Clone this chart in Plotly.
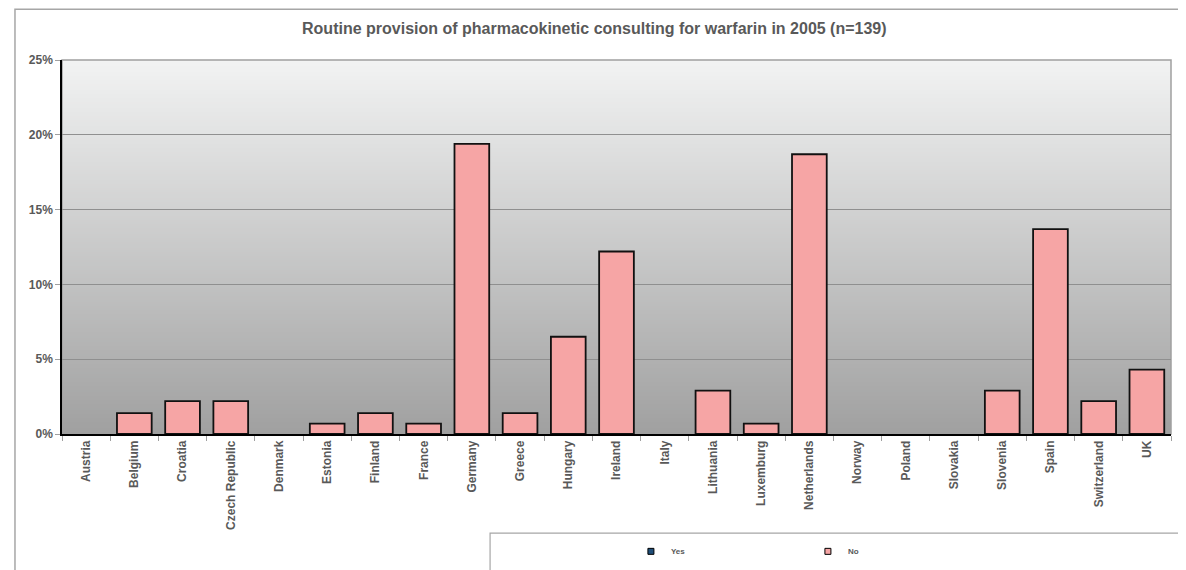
import plotly.graph_objects as go

countries = ["Austria", "Belgium", "Croatia", "Czech Republic", "Denmark", "Estonia",
             "Finland", "France", "Germany", "Greece", "Hungary", "Ireland", "Italy",
             "Lithuania", "Luxemburg", "Netherlands", "Norway", "Poland", "Slovakia",
             "Slovenia", "Spain", "Switzerland", "UK"]
yes_values = [None] * len(countries)
no_values = [0.0, 1.4, 2.2, 2.2, 0.0, 0.7, 1.4, 0.7, 19.4, 1.4, 6.5, 12.2, 0.0,
             2.9, 0.7, 18.7, 0.0, 0.0, 0.0, 2.9, 13.7, 2.2, 4.3]
y_ticks = [0, 5, 10, 15, 20, 25]

FONT = "Liberation Sans, Arial, sans-serif"
GRAY_TXT = "#595959"
YES_COLOR = "#1f4e79"
NO_COLOR = "#f6a5a5"

fig = go.Figure()
fig.add_trace(go.Bar(x=countries, y=yes_values, name="Yes", showlegend=False,
                     marker=dict(color=YES_COLOR, line=dict(color="black", width=1.5))))
fig.add_trace(go.Bar(x=countries, y=[v / 100 if v else None for v in no_values], name="No",
                     showlegend=False,
                     marker=dict(color=NO_COLOR, line=dict(color="#111111", width=1.8))))
# legend entries (small square keys like the original)
for nm, col in [("Yes", YES_COLOR), ("No", NO_COLOR)]:
    fig.add_trace(go.Scatter(x=[None], y=[None], mode="markers", name="<b>%s</b>" % nm,
                             marker=dict(symbol="square", size=6, color=col,
                                         line=dict(color="black", width=1))))

shapes = []
# gradient background strips
N = 187
top = (242, 243, 243)
bot = (160, 160, 160)
for i in range(N):
    f = (i + 0.5) / N
    c = tuple(round(top[k] + (bot[k] - top[k]) * f) for k in range(3))
    shapes.append(dict(type="rect", xref="paper", yref="paper", x0=0, x1=1,
                       y0=max(0, 1 - (i + 1) / N - 0.002), y1=1 - i / N,
                       fillcolor="rgb(%d,%d,%d)" % c, line=dict(width=0), layer="below"))
# plot area border (gray)
shapes.append(dict(type="rect", xref="paper", yref="paper", x0=0, x1=1, y0=0, y1=1,
                   line=dict(color="#a0a0a0", width=1.5), layer="below"))
# outer chart border
shapes.append(dict(type="rect", xref="paper", yref="paper", x0=-0.0424, x1=1.05,
                   y0=-0.5, y1=1.136, line=dict(color="#a6a6a6", width=1.5), layer="below"))
# legend box
shapes.append(dict(type="rect", xref="paper", yref="paper", x0=0.386, x1=1.05,
                   y0=-0.5, y1=-0.265, line=dict(color="#a6a6a6", width=1.2),
                   fillcolor="white", layer="above"))

fig.update_layout(
    width=1186, height=570,
    margin=dict(l=54, r=23, t=52, b=144),
    paper_bgcolor="white", plot_bgcolor="rgba(0,0,0,0)",
    barmode="overlay", bargap=0.28,
    font=dict(family=FONT, color=GRAY_TXT),
    title=dict(text="<b>Routine provision of pharmacokinetic consulting for warfarin in 2005 (n=139)</b>",
               x=0.48, xanchor="center", xref="paper", y=0.965, yanchor="middle",
               font=dict(size=16, color=GRAY_TXT, family=FONT)),
    shapes=shapes,
    showlegend=True,
    legend=dict(orientation="h", x=0.513, xanchor="left", y=-0.275, yanchor="top",
                bgcolor="rgba(0,0,0,0)", borderwidth=0,
                entrywidth=132, entrywidthmode="pixels", itemwidth=30,
                font=dict(size=8, color=GRAY_TXT, family=FONT)),
    xaxis=dict(type="category", showline=True, linecolor="black", linewidth=1.5,
               ticks="outside", tickson="boundaries", ticklen=5, tickcolor="#a0a0a0",
               tickangle=-90, showgrid=False,
               tickfont=dict(size=12, color=GRAY_TXT, family=FONT)),
    yaxis=dict(range=[0, 0.25], tickvals=[t / 100 for t in y_ticks],
               ticktext=["<b>%d%%</b>" % t for t in y_ticks],
               showline=True, linecolor="black", linewidth=1.5,
               ticks="outside", ticklen=5, tickcolor="#a0a0a0",
               showgrid=True, gridcolor="#8f8f8f", gridwidth=1, zeroline=False,
               tickfont=dict(size=12, color=GRAY_TXT, family=FONT)),
)
fig.update_xaxes(ticktext=["<b>%s</b>" % c for c in countries], tickvals=countries)
fig.write_html("out.html")
